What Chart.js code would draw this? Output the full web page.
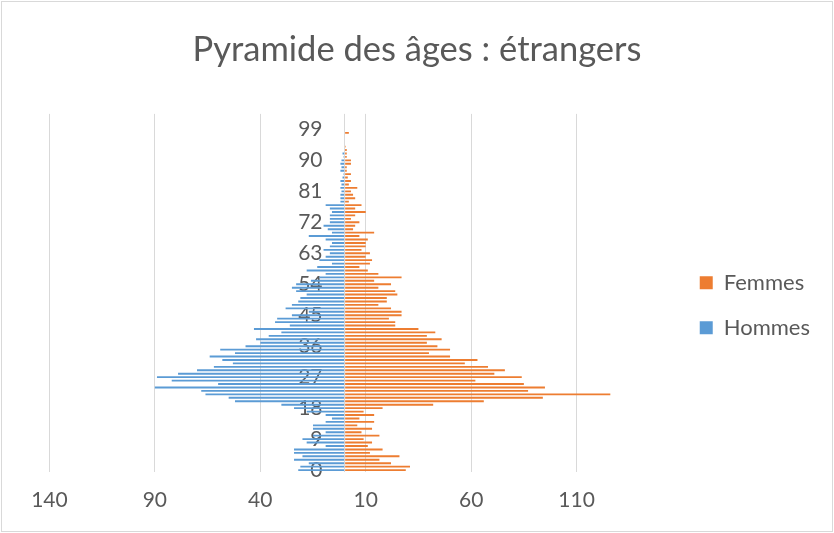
<!DOCTYPE html>
<html>
<head>
<meta charset="utf-8">
<script src="https://cdn.jsdelivr.net/npm/chart.js@4.4.1/dist/chart.umd.min.js"></script>
<style>
  body { margin: 0; background: #fff; }
  #wrap { position: absolute; left: 1px; top: 1px; width: 830px; height: 529px; border: 1px solid #d9d9d9; }
</style>
</head>
<body>
<div id="wrap"><canvas id="pyramid" width="830" height="529"></canvas></div>
<script>
// ages 0..103
const ages = [];
for (let a = 0; a <= 103; a++) ages.push(String(a));

const hommes = [
  22, 21, 17, 24, 20, 24, 24, 9, 18, 20,
  15, 9, 15, 15, 9, 6, 9, 18, 24, 30,
  52, 55, 66, 68, 90, 60, 82, 89, 79, 70,
  62, 53, 58, 64, 52, 59, 47, 40, 42, 36,
  30, 43, 26, 33, 32, 25, 17, 28, 25, 22,
  21, 18, 23, 25, 23, 16, 12, 9, 18, 13,
  6, 12, 9, 7, 10, 7, 6, 9, 17, 6,
  8, 10, 7, 7, 7, 6, 7, 9, 2, 2,
  2, 1.5, 2, 1.5, 2, 1, 0.5, 2, 1.5, 2,
  1.5, 0.5, 1, 0, 0, 0, 0, 0, 0, 0,
  0, 0, 0, 0
];

const femmes = [
  29, 31, 22, 16.5, 26, 12, 18, 11, 13, 9,
  16.5, 8, 13, 6, 14, 7, 14, 9, 18, 42,
  66, 94, 126, 87, 95, 85, 62, 84, 71, 76,
  68, 57, 63, 50, 40, 50, 44, 39, 46, 39,
  43, 35, 24, 24, 21, 27, 27, 22, 16, 20,
  20, 25, 24, 16, 22, 14, 27, 16, 11, 7,
  12, 13, 10, 12, 8, 10, 10, 11, 7, 14,
  4, 5, 7, 3, 5, 10, 5, 8, 2, 5,
  4, 3, 6, 2, 3, 1.5, 3, 1, 1, 3,
  3, 1, 1, 1, 0.5, 0, 0, 0, 2, 0,
  0, 0, 0, 0
];

const xTicks = [-140, -90, -40, 10, 60, 110];

const grey = '#595959';

new Chart(document.getElementById('pyramid'), {
  type: 'bar',
  data: {
    labels: ages,
    datasets: [{
      label: 'Hommes',
      data: hommes.map(v => -v),
      backgroundColor: '#5B9BD5',
      barPercentage: 0.55,
      categoryPercentage: 1
    }, {
      label: 'Femmes',
      data: femmes,
      backgroundColor: '#ED7D31',
      barPercentage: 0.55,
      categoryPercentage: 1
    }]
  },
  options: {
    indexAxis: 'y',
    responsive: false,
    animation: false,
    layout: {
      padding: { left: 12, right: 12, top: 0, bottom: 2 }
    },
    scales: {
      x: {
        stacked: true,
        min: -156.8,
        max: 157.5,
        afterBuildTicks: function (scale) {
          // the zero line is drawn as an unlabelled grid line
          scale.ticks = xTicks.concat([0]).map(v => ({ value: v }));
        },
        ticks: {
          color: grey,
          font: { family: 'Lato', size: 21 },
          padding: 16,
          maxRotation: 0,
          callback: function (value) { return value === 0 ? '' : Math.abs(value); }
        },
        grid: { color: '#d9d9d9', drawTicks: false },
        border: { display: false }
      },
      y: {
        stacked: true,
        reverse: true,
        // labels sit just left of the zero line, over the bars
        position: { x: -10.5 },
        grid: { display: false, drawTicks: false },
        border: { display: false },
        ticks: {
          autoSkip: false,
          color: grey,
          font: { family: 'Lato', size: 21 },
          callback: function (value, index) {
            return index % 9 === 0 ? ages[index] : null;
          }
        }
      }
    },
    plugins: {
      title: {
        display: true,
        text: 'Pyramide des âges : étrangers',
        color: grey,
        font: { family: 'Lato', size: 34.5, weight: 'normal' },
        padding: { top: 27, bottom: 43.5 }
      },
      legend: {
        position: 'right',
        fullSize: false,
        reverse: true,
        title: { display: true, text: ' ', font: { size: 10 }, padding: { top: 13, bottom: 0 } },
        labels: {
          color: grey,
          font: { family: 'Lato', size: 22 },
          boxWidth: 13,
          boxHeight: 13,
          padding: 23
        }
      },
      tooltip: { enabled: false }
    }
  }
});
</script>
</body>
</html>
